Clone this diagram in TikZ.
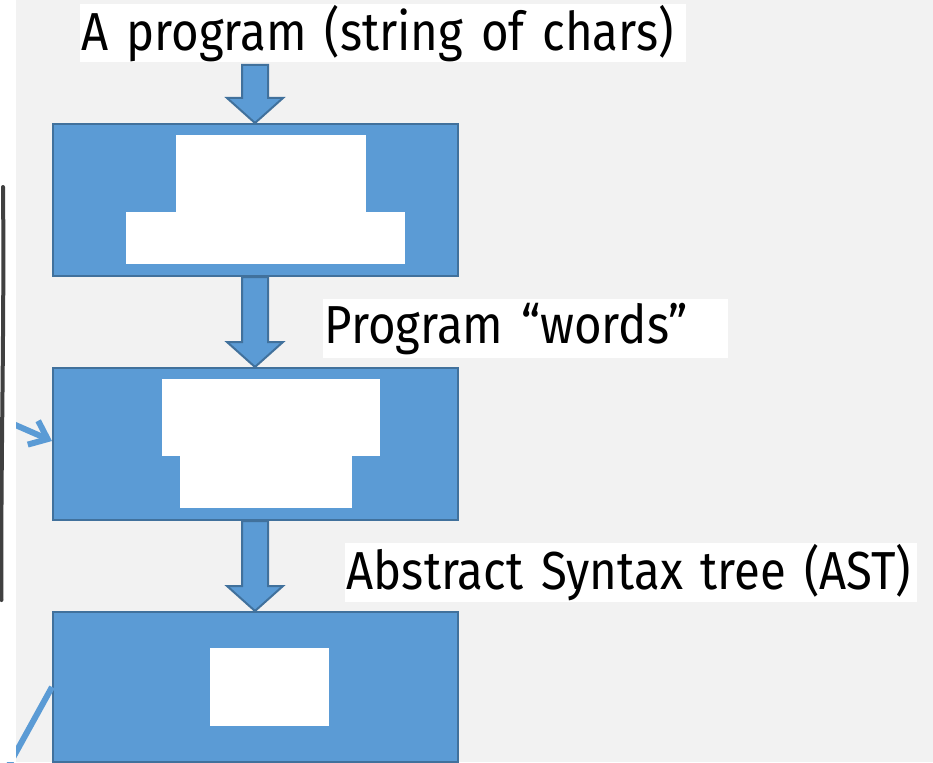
\documentclass[tikz,border=0pt]{standalone}
\usepackage{fontspec}
\setmainfont{Fira Sans}
\newfontfamily\tagfont[FakeStretch=0.885]{Fira Sans}
\usetikzlibrary{calc,arrows.meta}
\definecolor{boxblue}{HTML}{5B9BD5}
\definecolor{boxedge}{HTML}{41719C}
\definecolor{pagegray}{HTML}{F2F2F2}
\tikzset{
  stagebox/.style={draw=boxedge, fill=boxblue, line width=2pt, rectangle,
    minimum width=405pt, inner sep=0pt},
  tag/.style={fill=white, anchor=north west, inner xsep=1.5pt, inner ysep=0pt,
    align=left, font=\tagfont\fontsize{53.5}{60}\selectfont},
  blockarr/.style={draw=boxedge, fill=boxblue, line width=2pt, line join=miter},
  feedline/.style={draw=boxblue, line width=6pt},
  blank/.style={fill=white},
}
% block arrow running straight down from #1 to the tip #2
\newcommand\blockdown[2]{%
  \draw[blockarr] ($(#1)+(-13,0)$) -- ($(#2)+(-13,-25)$) -- ($(#2)+(-28,-25)$)
    -- (#2) -- ($(#2)+(28,-25)$) -- ($(#2)+(13,-25)$) -- ($(#1)+(13,0)$) -- cycle;}
\begin{document}
\begin{tikzpicture}[x=1pt,y=-1pt]
\useasboundingbox (0,0) rectangle (933,762);
\begin{scope}
\clip (0,0) rectangle (933,762);
\fill[pagegray] (16,0) rectangle (933,762);

% the three stages
\node[stagebox, minimum height=152pt, anchor=north west] (b1) at (52,123) {};
\node[stagebox, minimum height=152pt, anchor=north west] (b2) at (52,367) {};
\node[stagebox, minimum height=150pt, anchor=north west] (b3) at (52,611) {};

% blanked contents of the stages
\fill[blank] (176,135) rectangle (366,212);
\fill[blank] (126,211.5) rectangle (405,264);
\fill[blank] (162,379) rectangle (380,456);
\fill[blank] (180,455.5) rectangle (352,508);
\fill[blank] (210,648) rectangle (329,726);

% labels
\node[tag, text width=603pt, minimum height=58pt] (l1) at (80,4) {A program (string of chars)};
\node[tag, text width=402pt, minimum height=59pt] (l2) at (323,299) {Program “words”};
\node[tag, text width=569pt, minimum height=59pt] (l3) at (345,543) {Abstract Syntax tree (AST)};

% flow between stages
\coordinate (in) at (255,65);
\coordinate (t1) at (b1.north -| in);
\coordinate (s1) at (b1.south -| in);
\coordinate (t2) at (b2.north -| in);
\coordinate (s2) at (b2.south -| in);
\coordinate (t3) at (b3.north -| in);
\blockdown{in}{t1}
\blockdown{s1}{t2}
\blockdown{s2}{t3}

% lines coming in from the left
\coordinate (f2) at (4,420);
\coordinate (f3) at (4,774);
\draw[feedline, -{Straight Barb[length=16pt,width=26pt]}] (f2) -- (b2.west |- 0,441);
\draw[feedline] (f3) -- (b3.west |- 0,687);

% left margin
\fill[white] (0,0) rectangle (16,762);
\draw[line width=4pt, black!75, line cap=round] (3,187) .. controls (4.5,330) and (0.5,470) .. (1.5,600);
\end{scope}
\end{tikzpicture}
\end{document}
